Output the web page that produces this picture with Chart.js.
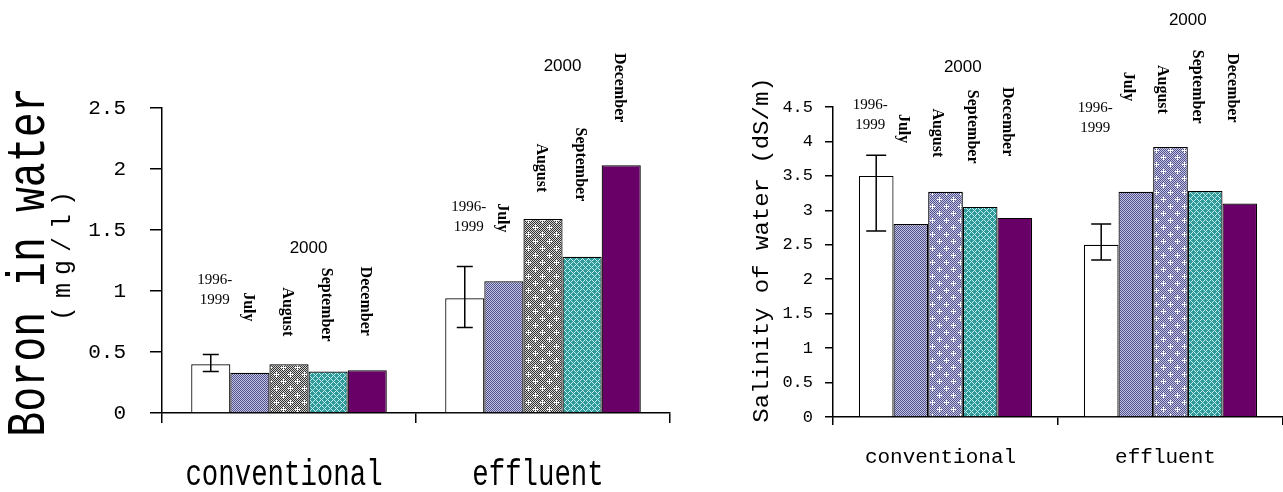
<!DOCTYPE html>
<html lang="en">
<head>
<meta charset="UTF-8">
<title>Boron and salinity of water</title>
<script src="https://cdn.jsdelivr.net/npm/chart.js"></script>
<style>
    body {
        margin: 0;
        width: 1283px;
        height: 492px;
        overflow: hidden;
        position: relative;
        background: #fff;
    }
    .box {
        position: absolute;
        top: 0;
    }
    #boronBox { left: 0; }
    #salinityBox { left: 740px; }
</style>
</head>
<body>
<div class="box" id="boronBox"><canvas id="boronChart" width="700" height="492"></canvas></div>
<div class="box" id="salinityBox"><canvas id="salinityChart" width="543" height="492"></canvas></div>

<script>
const groups = ['conventional', 'effluent'];
const periods = ['1996-1999', 'July', 'August', 'September', 'December'];

// Boron in water (mg/l)
const boronBase = [0.40, 0.94];
const boronJuly = [0.33, 1.08];
const boronAugust = [0.40, 1.59];
const boronSeptember = [0.34, 1.28];
const boronDecember = [0.35, 2.03];
const boronErrLow = [0.34, 0.70];
const boronErrHigh = [0.48, 1.20];
const boronTicks = [0, 0.5, 1, 1.5, 2, 2.5];

// Salinity of water (dS/m)
const salinityBase = [3.50, 2.50];
const salinityJuly = [2.80, 3.27];
const salinityAugust = [3.27, 3.92];
const salinitySeptember = [3.05, 3.28];
const salinityDecember = [2.89, 3.10];
const salinityErrLow = [2.70, 2.28];
const salinityErrHigh = [3.80, 2.80];
const salinityTicks = [0, 0.5, 1, 1.5, 2, 2.5, 3, 3.5, 4, 4.5];

// where the hand placed labels over the bars start, in axis units
const boronLabelTop = [[1.15, 0.99, 1.03, 1.19, 1.20], [1.75, 1.72, 2.21, 2.34, 2.95]];
const boronYearAt = [1.35, 2.84];
const salinityLabelTop = [[4.64, 4.40, 4.48, 4.75, 4.79], [4.60, 5.01, 5.11, 5.33, 5.28]];
const salinityYearAt = [5.08, 5.76];

// --- fill patterns (old spreadsheet hatching) ---
function tile(size, bg, paint) {
    const c = document.createElement('canvas');
    c.width = c.height = size;
    const g = c.getContext('2d');
    g.fillStyle = bg;
    g.fillRect(0, 0, size, size);
    paint(g, size);
    return g.createPattern(c, 'repeat');
}
function checker(g, size, col) {
    g.fillStyle = col;
    for (let y = 0; y < size; y++)
        for (let x = 0; x < size; x++)
            if ((x + y) % 2 === 0) g.fillRect(x, y, 1, 1);
}
function plus(g, x, y) {
    g.fillStyle = '#fff';
    g.fillRect(x - 2, y, 5, 1);
    g.fillRect(x, y - 2, 1, 5);
}

const fillWhite = '#ffffff';
const fillJuly = tile(2, '#c4c4e4', (g, s) => checker(g, s, '#50508a'));
const fillAugustGray = tile(14, '#d4d4d4', (g, s) => { checker(g, s, '#303030'); plus(g, 3, 3); plus(g, 10, 10); });
const fillAugustBlue = tile(14, '#c4c4e4', (g, s) => { checker(g, s, '#50508a'); plus(g, 3, 3); plus(g, 10, 10); });
const fillSeptember = tile(6, '#2f9a9a', (g, s) => {
    g.fillStyle = '#c4ecec';
    for (let y = 0; y < s; y++)
        for (let x = 0; x < s; x++)
            if ((x + y) % 6 === 0 || (x - y + 6) % 6 === 0) g.fillRect(x, y, 1, 1);
});
const fillDecember = '#680068';

// text helper: optional rotation, horizontal squeeze and letter spacing
function drawText(ctx, text, x, y, o) {
    ctx.save();
    ctx.font = o.font;
    ctx.fillStyle = '#000';
    ctx.textAlign = o.align || 'center';
    ctx.textBaseline = o.baseline || 'middle';
    if (o.spacing) ctx.letterSpacing = o.spacing + 'px';
    ctx.translate(x, y);
    if (o.angle) ctx.rotate(o.angle);
    if (o.sx) ctx.scale(o.sx, 1);
    ctx.fillText(text, 0, 0);
    ctx.restore();
}

function makeSketch(c) {
    return {
        id: 'sketch',
        afterDatasetsDraw(chart) {
            // error bar on the 1996-1999 mean
            const ctx = chart.ctx;
            const y = chart.scales.y;
            ctx.save();
            ctx.strokeStyle = '#000';
            ctx.lineWidth = 1.5;
            chart.getDatasetMeta(0).data.forEach((bar, i) => {
                const top = y.getPixelForValue(c.errHigh[i]);
                const bot = y.getPixelForValue(c.errLow[i]);
                ctx.beginPath();
                ctx.moveTo(bar.x, top); ctx.lineTo(bar.x, bot);
                ctx.moveTo(bar.x - c.cap, top); ctx.lineTo(bar.x + c.cap, top);
                ctx.moveTo(bar.x - c.cap, bot); ctx.lineTo(bar.x + c.cap, bot);
                ctx.stroke();
            });
            ctx.restore();
        },
        afterDraw(chart) {
            const ctx = chart.ctx;
            const x = chart.scales.x;
            const y = chart.scales.y;

            c.titles.forEach(t => drawText(ctx, t.text, t.x, t.y, { font: t.font, angle: -Math.PI / 2, sx: t.sx, spacing: t.spacing }));

            groups.forEach((g, i) => {
                drawText(ctx, g, x.getPixelForValue(i) + c.catDx, c.catY, { font: c.catFont, sx: c.catSx, baseline: 'alphabetic' });
            });

            chart.data.datasets.forEach((ds, d) => {
                chart.getDatasetMeta(d).data.forEach((bar, g) => {
                    const top = y.getPixelForValue(c.labelTop[g][d]);
                    if (d === 0) {
                        const parts = ds.label.split('-');
                        drawText(ctx, parts[0] + '-', bar.x + c.baseDx, top, { font: c.baseFont, baseline: 'top' });
                        drawText(ctx, parts[1], bar.x + c.baseDx, top + 20, { font: c.baseFont, baseline: 'top' });
                    } else {
                        drawText(ctx, ds.label, bar.x + c.monthDx, top, { font: c.monthFont, angle: Math.PI / 2, align: 'left' });
                    }
                });
            });

            groups.forEach((g, i) => {
                const first = chart.getDatasetMeta(1).data[i];
                const last = chart.getDatasetMeta(4).data[i];
                drawText(ctx, '2000', (first.x + last.x) / 2, y.getPixelForValue(c.yearAt[i]), { font: '17px "Liberation Sans"' });
            });
        }
    };
}

function buildChart(id, c) {
    return new Chart(document.getElementById(id), {
        type: 'bar',
        data: {
            labels: groups,
            datasets: c.series.map((vals, i) => ({
                label: periods[i],
                data: vals,
                backgroundColor: c.fills[i],
                borderColor: '#000',
                borderWidth: 1.2,
                categoryPercentage: 0.77,
                barPercentage: 1
            }))
        },
        options: {
            responsive: false,
            animation: false,
            devicePixelRatio: 1,
            layout: { padding: { top: c.padTop, right: c.padRight, left: 0, bottom: 0 } },
            plugins: { legend: { display: false }, tooltip: { enabled: false } },
            scales: {
                x: {
                    grid: { offset: true, drawOnChartArea: false, tickLength: c.xTick, color: '#000', lineWidth: 1.5 },
                    border: { color: '#000', width: 1.5 },
                    ticks: { display: false },
                    afterFit: s => { s.height = c.xHeight; }
                },
                y: {
                    min: c.ticks[0],
                    max: c.ticks[c.ticks.length - 1],
                    ticks: {
                        stepSize: c.ticks[1] - c.ticks[0],
                        font: c.tickFont,
                        color: '#000',
                        padding: c.tickPad,
                        callback: v => String(v)
                    },
                    grid: { drawOnChartArea: false, tickLength: c.yTick, color: '#000', lineWidth: 1.5 },
                    border: { color: '#000', width: 1.5 },
                    afterFit: s => { s.width = c.yWidth; }
                }
            }
        },
        plugins: [makeSketch(c)]
    });
}

buildChart('boronChart', {
    series: [boronBase, boronJuly, boronAugust, boronSeptember, boronDecember],
    fills: [fillWhite, fillJuly, fillAugustGray, fillSeptember, fillDecember],
    errLow: boronErrLow, errHigh: boronErrHigh, cap: 8,
    ticks: boronTicks,
    labelTop: boronLabelTop, yearAt: boronYearAt,
    padTop: 108, padRight: 30, xHeight: 79, yWidth: 162,
    xTick: 10, yTick: 12, tickPad: 24,
    tickFont: { family: '"Liberation Mono", monospace', size: 21 },
    titles: [
        { text: 'Boron in water', x: 30, y: 262, font: '54px "Liberation Mono"', sx: 0.77 },
        { text: '(mg/l)', x: 63, y: 252, font: '25px "Liberation Mono"', spacing: 8 }
    ],
    catFont: '37px "Liberation Mono"', catSx: 0.74, catY: 485, catDx: -5,
    baseFont: '15px "Liberation Serif"', baseDx: 4,
    monthFont: 'bold 16px "Liberation Serif"', monthDx: -2
});

buildChart('salinityChart', {
    series: [salinityBase, salinityJuly, salinityAugust, salinitySeptember, salinityDecember],
    fills: [fillWhite, fillJuly, fillAugustBlue, fillSeptember, fillDecember],
    errLow: salinityErrLow, errHigh: salinityErrHigh, cap: 10,
    ticks: salinityTicks,
    labelTop: salinityLabelTop, yearAt: salinityYearAt,
    padTop: 107, padRight: 0, xHeight: 75, yWidth: 93,
    xTick: 8, yTick: 8, tickPad: 12,
    tickFont: { family: '"Liberation Mono", monospace', size: 17 },
    titles: [
        { text: 'Salinity of water (dS/m)', x: 22, y: 250, font: '22px "Liberation Mono"', sx: 1.09 }
    ],
    catFont: '20px "Liberation Mono"', catSx: 1.05, catY: 463, catDx: -5,
    baseFont: '15px "Liberation Serif"', baseDx: -6,
    monthFont: 'bold 16px "Liberation Serif"', monthDx: -8
});
</script>
</body>
</html>
